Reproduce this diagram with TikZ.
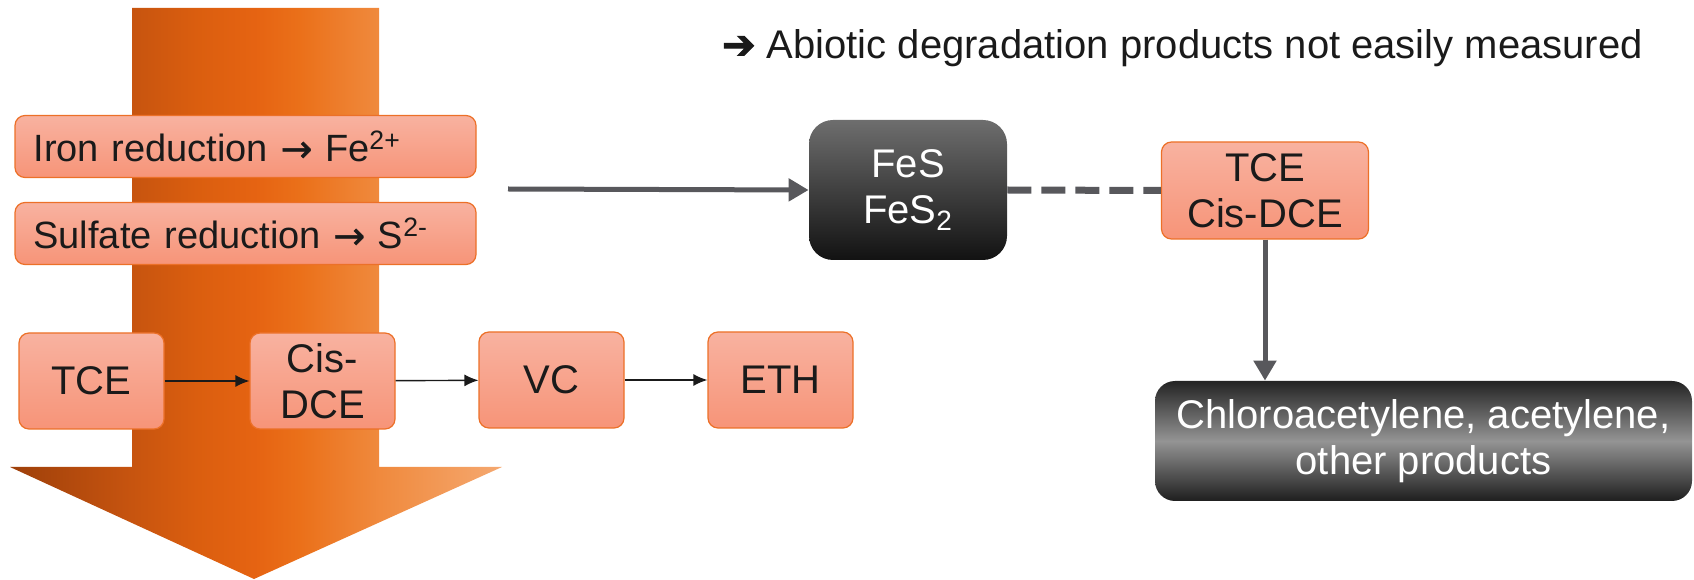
\documentclass[tikz,border=0pt]{standalone}
\usepackage{fontspec}
\setmainfont{Liberation Sans}
\newfontfamily\symfont[FakeBold=2.5]{DejaVu Sans}
\newfontfamily\arrowfont[FakeBold=1]{DejaVu Sans}
\newcommand\redto{{\arrowfont →}}
\usetikzlibrary{arrows.meta}
\definecolor{boxtop}{RGB}{248,178,160}
\definecolor{boxbot}{RGB}{247,148,120}
\definecolor{boxline}{RGB}{236,112,40}
\definecolor{linkgray}{RGB}{88,88,92}
\definecolor{txt}{RGB}{26,26,26}
% orange flow behind the chain, left dark to right light
\pgfdeclarehorizontalshading{flow}{100bp}{rgb(0bp)=(0.62,0.25,0.04); rgb(25bp)=(0.62,0.25,0.04);
  rgb(37.4bp)=(0.78,0.33,0.06); rgb(44.3bp)=(0.86,0.37,0.06); rgb(50bp)=(0.90,0.39,0.07);
  rgb(54.5bp)=(0.92,0.44,0.10); rgb(62.5bp)=(0.94,0.54,0.24); rgb(75bp)=(0.96,0.66,0.44);
  rgb(100bp)=(0.96,0.66,0.44)}

\begin{document}
\begin{tikzpicture}[x=0.5pt,y=0.5pt,
  every node/.style={font=\fontsize{20}{23}\selectfont},
  redbox/.style={draw=boxline, line width=0.6pt, top color=boxtop, bottom color=boxbot,
    rounded corners=5pt, text=txt, align=center, inner sep=0pt,
    minimum width=72.5pt, minimum height=48pt},
  widebox/.style={redbox, font=\fontsize{19}{22}\selectfont, minimum width=230.5pt,
    minimum height=31pt, text width=212pt, align=left},
  darkbox/.style={top color=black!57, bottom color=black!93, text=white, align=center,
    inner sep=0pt, rounded corners=12pt, minimum width=99pt, minimum height=70pt},
  greybox/.style={top color=black!86, bottom color=black!88, middle color=black!42, text=white,
    align=center, inner sep=0pt, rounded corners=10pt, minimum width=268.5pt, minimum height=60pt},
  step arrow/.style={-{Latex[length=7pt,width=6pt]}, line width=0.7pt, txt},
  linkarrow/.style={linkgray, line width=2.5pt, -{Triangle[length=10pt,width=11pt]}}
]
\useasboundingbox (0,0) rectangle (1694,579);

% big shaded arrow
\path[shading=flow]
  (132,571) -- (379,571) -- (379,112) -- (502,112) -- (254,0) -- (10,112) -- (132,112) -- cycle;

\node [widebox] (iron) at (245.5,432.5) {Iron reduction \redto{} Fe\textsuperscript{2+}};
\node [widebox] (sulf) at (245.5,345.5) {Sulfate reduction \redto{} S\textsuperscript{2-}};

\node [redbox] (tce) at (91.5,198) {TCE};
\node [redbox] (dce) at (322.5,198) {Cis-\\DCE};
\node [redbox] (vc) at (551.5,199) {VC};
\node [redbox] (eth) at (780.5,199) {ETH};
\draw [step arrow] (tce) -- (dce);
\draw [step arrow] (dce) -- (vc);
\draw [step arrow] (vc) -- (eth);

\coordinate (redox) at (508,390);
\node [darkbox] (fes) at (908,389) {FeS\\FeS\textsubscript{2}};
\node [redbox, minimum width=103.5pt, minimum height=48.5pt] (abio) at (1265,388.5) {TCE\\Cis-DCE};
\node [greybox] (prod) at (1423.5,138) {Chloroacetylene, acetylene,\\other products};
\node [text=txt] (note) at (1182.5,531) {{\symfont ➔} Abiotic degradation products not easily measured};

\draw [linkarrow] (redox) -- (fes.west);
\draw [linkgray, line width=3.5pt, dash pattern=on 12pt off 5pt] (fes.east) -- (abio.west);
\draw [linkarrow] (abio.south) -- (abio.south |- prod.north);
\end{tikzpicture}
\end{document}
